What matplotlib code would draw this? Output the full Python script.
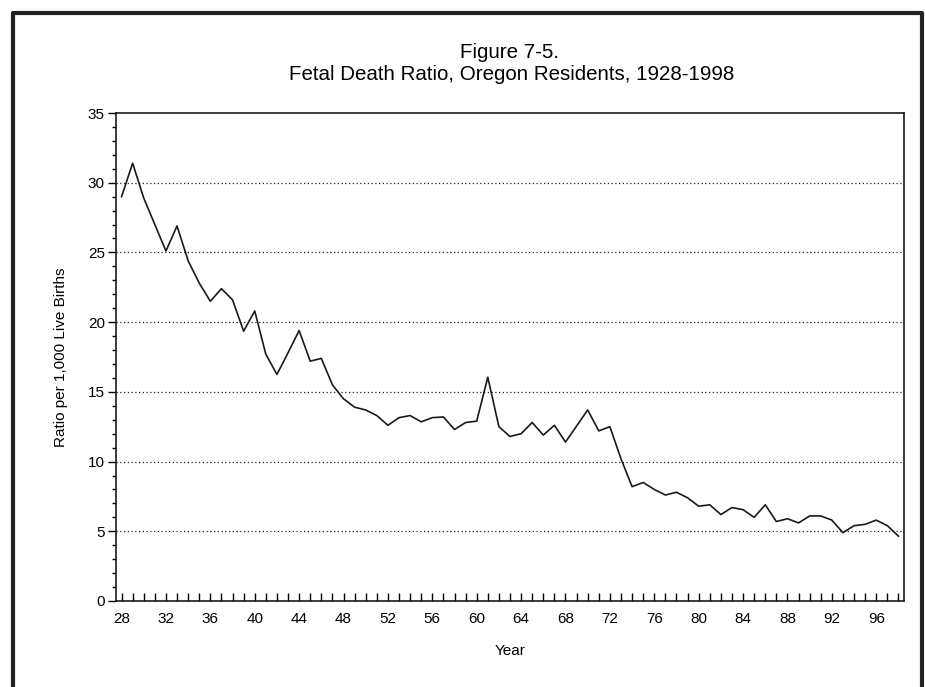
import numpy as np
import matplotlib
matplotlib.use('Agg')
import matplotlib.pyplot as plt
from matplotlib.ticker import MultipleLocator, FixedLocator

plt.rcParams['font.family'] = ['Liberation Sans', 'DejaVu Sans']

# two-digit years 1928-1998
years = list(range(28, 99))
ratio = [29.0, 31.4, 28.9, 27.0, 25.1, 26.9, 24.4, 22.8, 21.5, 22.4,
         21.6, 19.35, 20.8, 17.7, 16.25, 17.8, 19.4, 17.2, 17.4, 15.5,
         14.5, 13.9, 13.7, 13.3, 12.6, 13.15, 13.3, 12.85, 13.15, 13.2,
         12.3, 12.8, 12.9, 16.05, 12.5, 11.8, 12.0, 12.8, 11.9, 12.6,
         11.4, 12.55, 13.7, 12.2, 12.5, 10.2, 8.2, 8.5, 8.0, 7.6,
         7.8, 7.4, 6.8, 6.9, 6.2, 6.7, 6.55, 6.0, 6.9, 5.7,
         5.9, 5.6, 6.1, 6.1, 5.8, 4.9, 5.4, 5.5, 5.8, 5.4, 4.65]
xlabels = list(range(28, 97, 4))
ygrid = [5, 10, 15, 20, 25, 30]

fig = plt.figure(figsize=(9.25, 6.87), dpi=100)
ax = fig.add_axes([0.1254, 0.1252, 0.8519, 0.7103])

ax.plot(years, ratio, color='#1a1a1a', lw=1.2)
for g in ygrid:
    ax.axhline(g, color='#222222', lw=0.9, ls=(0, (1, 2)), zorder=0)

ax.set_xlim(27.5, 98.5)
ax.set_ylim(0, 35)
ax.xaxis.set_major_locator(FixedLocator(xlabels))
ax.xaxis.set_minor_locator(MultipleLocator(1))
ax.yaxis.set_major_locator(MultipleLocator(5))
ax.yaxis.set_minor_locator(MultipleLocator(1))
ax.tick_params(axis='x', which='both', direction='in', length=6, width=1, pad=8, labelsize=11)
ax.tick_params(axis='y', which='major', direction='out', length=6, width=1, pad=2, labelsize=11)
ax.tick_params(axis='y', which='minor', direction='out', length=3, width=1)
for s in ax.spines.values():
    s.set_linewidth(1.2)
    s.set_color('#1a1a1a')

ax.set_xlabel('Year', fontsize=11, labelpad=13)
ax.set_ylabel('Ratio per 1,000 Live Births', fontsize=11, labelpad=14)

fig.text(0.551, 0.924, 'Figure 7-5.', ha='center', va='center', fontsize=14.8)
fig.text(0.553, 0.891, 'Fetal Death Ratio, Oregon Residents, 1928-1998',
         ha='center', va='center', fontsize=14.8)

# outer frame (bottom edge falls outside the picture)
fx = [13 / 925, 13 / 925, 922 / 925, 922 / 925]
fy = [-0.05, 1 - 12.5 / 687, 1 - 12.5 / 687, -0.05]
fig.add_artist(plt.Line2D(fx, fy, color='#222222', lw=3, transform=fig.transFigure))

plt.savefig('out.png', dpi=100)
